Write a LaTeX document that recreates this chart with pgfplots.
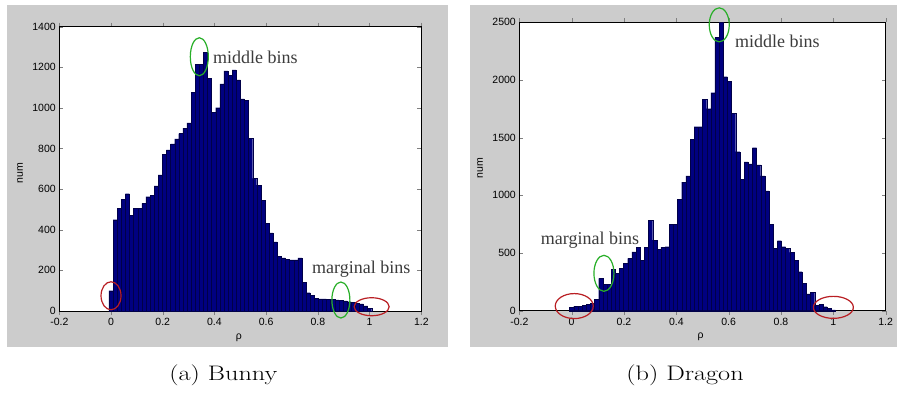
\documentclass[border=0pt]{standalone}
\usepackage{graphicx}
\usepackage{pgfplots}
\pgfplotsset{compat=1.18}
\usepackage{fontspec}
\newfontfamily\arialf{Liberation Sans}
\newfontfamily\timesf{Liberation Serif}
\definecolor{figgray}{RGB}{204,204,204}
\definecolor{barblue}{RGB}{0,0,128}
\definecolor{baredge}{RGB}{0,0,72}
\definecolor{ellred}{RGB}{185,30,35}
\definecolor{ellgreen}{RGB}{40,175,40}
\definecolor{anntext}{RGB}{60,60,60}
\tikzset{
  ann/.style={font=\timesf\fontsize{18}{20}\selectfont, text=anntext, anchor=west, inner sep=0pt},
  barst/.style={fill=barblue, draw=baredge, line width=0.2pt},
}
\pgfplotsset{
  matlab/.style={
    scale only axis,
    axis background/.style={fill=white},
    tick align=inside,
    major tick length=4pt,
    xmin=-0.2, xmax=1.2,
    xtick={-0.2,0,0.2,0.4,0.6,0.8,1,1.2},
    xticklabels={-0.2,0,0.2,0.4,0.6,0.8,1,1.2},
    ymin=0,
    tick label style={font=\arialf\fontsize{10.5}{12}\selectfont},
    /pgf/number format/assume math mode=true,
    /pgf/number format/1000 sep={},
    clip=false,
    axis line style={line width=0.5pt},
    ybar, bar width=0.015873,
    xlabel={\arialf\fontsize{10.5}{12}\selectfont ρ},
    ylabel={\arialf\fontsize{10.5}{12}\selectfont num},
  },
}
\begin{document}
\begin{tikzpicture}[x=1pt,y=1pt]
\fill[figgray] (7,47) rectangle (448,389);
\fill[figgray] (470,47) rectangle (897,389);

\begin{axis}[matlab, at={(59.3pt,83pt)}, anchor=south west, width=362pt, height=284.3pt,
  ymax=1400, ytick={0,200,400,600,800,1000,1200,1400},
  every axis x label/.style={at={(axis description cs:0.496,-0.095)}, anchor=center},
  every axis y label/.style={at={(axis description cs:-0.1086,0.485)}, rotate=90, anchor=center}]
\addplot[barst] table {
x y
0 100
0.015873 450
0.031746 507
0.047619 551
0.063492 578
0.079365 470
0.095238 507
0.111111 507
0.126984 530
0.142857 563
0.158730 571
0.174603 616
0.190476 670
0.206349 772
0.222222 793
0.238095 823
0.253968 847
0.269841 874
0.285714 900
0.301587 926
0.317460 1077
0.333333 1215
0.349206 1215
0.365079 1274
0.380952 1146
0.396825 977
0.412698 1001
0.428571 1118
0.444444 1183
0.460317 1162
0.476190 1187
0.492063 1138
0.507937 1044
0.523810 1039
0.539683 850
0.555556 653
0.571429 620
0.587302 545
0.603175 432
0.619048 385
0.634921 341
0.650794 270
0.666667 262
0.682540 255
0.698413 252
0.714286 252
0.730159 262
0.746032 140
0.761905 90
0.777778 76
0.793651 62
0.809524 60
0.825397 60
0.841270 58
0.857143 57
0.873016 55
0.888889 52
0.904762 50
0.920635 46
0.936508 42
0.952381 38
0.968254 35
0.984127 25
1 12
};
\draw[ellred, line width=1.2pt] (axis cs:0,75) ellipse [x radius=10pt, y radius=14pt];
\draw[ellgreen, line width=1.2pt] (axis cs:0.3415,1252) ellipse [x radius=9pt, y radius=19pt];
\draw[ellgreen, line width=1.2pt] (axis cs:0.889,54) ellipse [x radius=9pt, y radius=18pt];
\draw[ellred, line width=1.2pt] (axis cs:1.008,21) ellipse [x radius=17.5pt, y radius=9pt];
\node[ann] at (axis cs:0.394,1251) {middle bins};
\node[ann] at (axis cs:0.777,207) {marginal bins};
\end{axis}

\begin{axis}[matlab, at={(519.3pt,83.3pt)}, anchor=south west, width=366.4pt, height=288.4pt,
  ymax=2500, ytick={0,500,1000,1500,2000,2500},
  every axis x label/.style={at={(axis description cs:0.495,-0.09)}, anchor=center},
  every axis y label/.style={at={(axis description cs:-0.107,0.495)}, rotate=90, anchor=center}]
\addplot[barst] table {
x y
0 29
0.015873 38
0.031746 40
0.047619 48
0.063492 55
0.079365 62
0.095238 100
0.111111 280
0.126984 231
0.142857 231
0.158730 358
0.174603 324
0.190476 367
0.206349 410
0.222222 454
0.238095 511
0.253968 549
0.269841 439
0.285714 549
0.301587 786
0.317460 612
0.333333 532
0.349206 549
0.365079 555
0.380952 749
0.396825 751
0.412698 965
0.428571 1115
0.444444 1168
0.460317 1486
0.476190 1595
0.492063 1595
0.507937 1832
0.523810 1751
0.539683 1890
0.555556 2370
0.571429 2500
0.587302 2029
0.603175 1986
0.619048 1711
0.634921 1379
0.650794 1139
0.666667 1289
0.682540 1272
0.698413 1413
0.714286 1263
0.730159 1168
0.746032 1038
0.761905 751
0.777778 540
0.793651 607
0.809524 555
0.825397 540
0.841270 506
0.857143 439
0.873016 338
0.888889 237
0.904762 145
0.920635 159
0.936508 49
0.952381 55
0.968254 35
0.984127 20
1 8
};
\draw[ellred, line width=1.2pt] (axis cs:0.01,40) ellipse [x radius=19pt, y radius=12.5pt];
\draw[ellgreen, line width=1.2pt] (axis cs:0.1234,324) ellipse [x radius=10pt, y radius=18pt];
\draw[ellgreen, line width=1.2pt] (axis cs:0.564,2478) ellipse [x radius=10pt, y radius=17pt];
\draw[ellred, line width=1.2pt] (axis cs:1.0,29) ellipse [x radius=20pt, y radius=11pt];
\node[ann] at (axis cs:0.624,2335) {middle bins};
\node[ann] at (axis cs:-0.118,607) {marginal bins};
\end{axis}

\node[anchor=base, inner sep=0pt] at (223.4,13.3) {\scalebox{1.25}[1]{\fontsize{21}{25}\selectfont (a) Bunny}};
\node[anchor=base, inner sep=0pt] at (685,13.3) {\scalebox{1.25}[1]{\fontsize{21}{25}\selectfont (b) Dragon}};
\pgfresetboundingbox
\path[use as bounding box] (0,0) rectangle (903,394);
\end{tikzpicture}
\end{document}
